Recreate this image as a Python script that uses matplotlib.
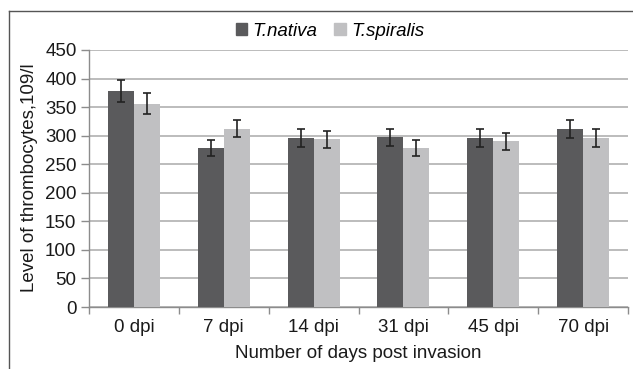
import numpy as np
import matplotlib
matplotlib.use("Agg")
import matplotlib.pyplot as plt
from matplotlib.patches import Patch
from matplotlib.lines import Line2D

# 数据：各时间点的血小板水平
categories = ["0 dpi", "7 dpi", "14 dpi", "31 dpi", "45 dpi", "70 dpi"]
nativa = [378, 278, 296, 297, 296, 312]
nativa_err = [19, 14, 15, 15, 15, 16]
spiralis = [356, 312, 294, 278, 290, 296]
spiralis_err = [18, 15, 15, 14, 15, 15]
y_ticks = list(range(0, 451, 50))

plt.rcParams['font.family'] = ['Liberation Sans', 'DejaVu Sans']

dark = '#5a5a5c'
light = '#c0c0c2'
grid_col = '#a9a9a9'
axis_col = '#8c8c8c'

fig = plt.figure(figsize=(6.33, 3.69), dpi=100)
ax = fig.add_axes([89 / 633, 62 / 369, 539 / 633, 257 / 369])

x = np.arange(len(categories))
w = 0.29
err_kw = dict(ecolor='#222222', elinewidth=1.2, capsize=3, capthick=1.2)
ax.bar(x - w / 2, nativa, w, yerr=nativa_err, color=dark, error_kw=err_kw, zorder=3)
ax.bar(x + w / 2, spiralis, w, yerr=spiralis_err, color=light, error_kw=err_kw, zorder=3)

ax.set_xlim(-0.5, len(categories) - 0.5)
ax.set_ylim(0, 450)
ax.set_yticks(y_ticks)
ax.set_xticks(x)
ax.set_xticklabels(categories)
ax.set_xticks(np.arange(-0.5, len(categories)), minor=True)

ax.grid(axis='y', color=grid_col, linewidth=1.1, zorder=0)
for side in ['top', 'right']:
    ax.spines[side].set_visible(False)
for side in ['left', 'bottom']:
    ax.spines[side].set_color(axis_col)
    ax.spines[side].set_linewidth(1.0)

ax.tick_params(axis='x', which='major', length=0, pad=9, labelsize=13.5, colors='#1a1a1a')
ax.tick_params(axis='x', which='minor', length=5, color=axis_col, width=1)
ax.tick_params(axis='y', length=6, color=axis_col, width=1, pad=3, labelsize=13.5, labelcolor='#1a1a1a')

fig.text(358 / 633, 1 - 353 / 369, "Number of days post invasion", ha='center', va='center',
         fontsize=13.5, color='#1a1a1a')
fig.text(30 / 633, 1 - 178 / 369, "Level of thrombocytes,109/l", ha='center', va='center',
         rotation=90, fontsize=13.5, color='#1a1a1a')

handles = [Patch(color=dark, label='T.nativa'), Patch(color=light, label='T.spiralis')]
fig.legend(handles=handles, loc='center', bbox_to_anchor=(330 / 633, 1 - 31 / 369), ncol=2,
           frameon=False, handlelength=0.6, handleheight=0.6, handletextpad=0.3,
           columnspacing=0.9, prop={'style': 'italic', 'size': 13.5})

# 外框（左边和上边）
fig.add_artist(Line2D([9 / 633, 9 / 633], [0, 1 - 11 / 369], transform=fig.transFigure,
                      color='#555555', linewidth=1.0))
fig.add_artist(Line2D([9 / 633, 1], [1 - 11 / 369, 1 - 11 / 369], transform=fig.transFigure,
                      color='#555555', linewidth=1.0))

fig.savefig('out.png', dpi=100)
